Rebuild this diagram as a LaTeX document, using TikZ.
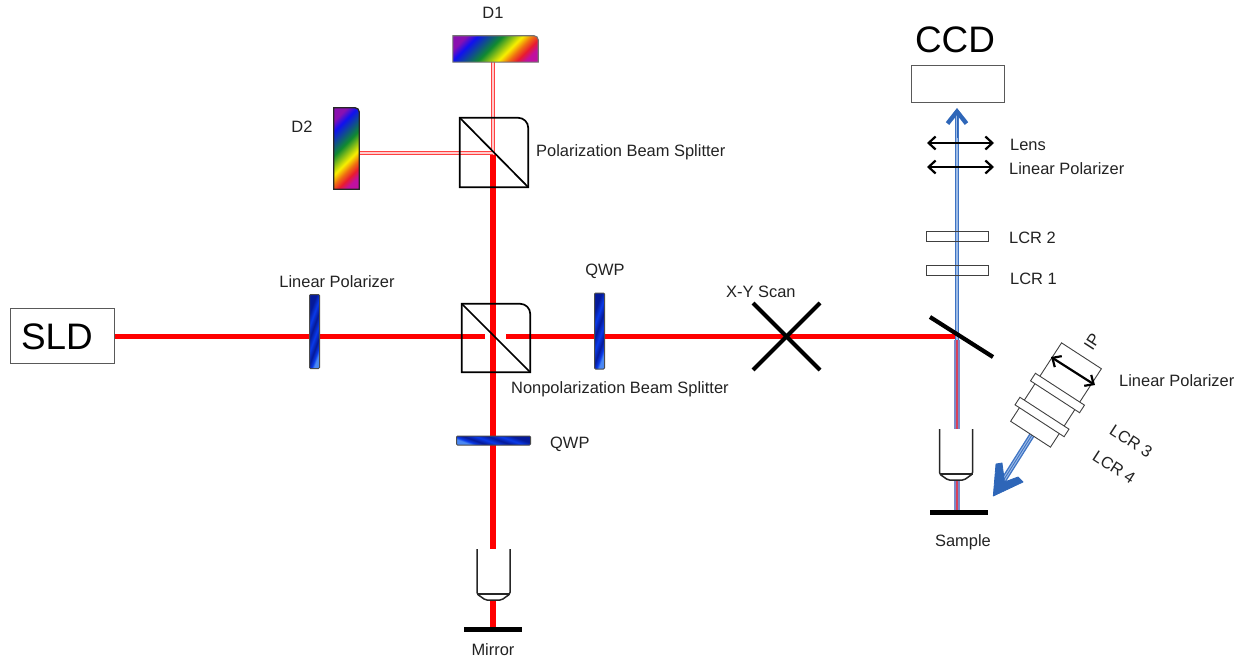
\documentclass[tikz,border=0pt]{standalone}
\usepackage{fontspec}
\setmainfont{Liberation Sans}
\usetikzlibrary{arrows.meta,calc}
\definecolor{txt}{HTML}{222222}
\definecolor{rbp}{HTML}{8A10B0}
\definecolor{rbb}{HTML}{1010F0}
\definecolor{rbg}{HTML}{108A30}
\definecolor{rby}{HTML}{F8F000}
\definecolor{rbo}{HTML}{F07010}
\definecolor{rbr}{HTML}{E81A30}
\definecolor{rbm}{HTML}{C010A0}
\definecolor{nav}{HTML}{051A9A}
\definecolor{blu}{HTML}{0A3AE8}
\definecolor{lbl}{HTML}{4A88F4}
\definecolor{bbeam}{HTML}{3F74C4}
\definecolor{bcore}{HTML}{9DBBE6}
\definecolor{bhead}{HTML}{2E66B8}
\definecolor{beamred}{HTML}{FF0000}
\definecolor{mixout}{HTML}{7A8AC8}
\definecolor{mixin}{HTML}{D8405A}
\pgfdeclarehorizontalshading{rainbow}{100bp}{color(0bp)=(rbp);color(31bp)=(rbp);color(36bp)=(rbb);color(47.5bp)=(rbg);color(56.5bp)=(rby);color(61bp)=(rbo);color(65bp)=(rbr);color(69bp)=(rbm);color(100bp)=(rbm)}
\pgfdeclarehorizontalshading{bandsA}{100bp}{color(0bp)=(nav);color(30bp)=(nav);color(38bp)=(blu);color(46bp)=(nav);color(54bp)=(blu);color(62bp)=(nav);color(68bp)=(blu);color(72bp)=(lbl);color(100bp)=(lbl)}
\tikzset{
  lab/.style={font=\fontsize{16.5}{19}\selectfont,text=txt,inner sep=0pt},
  bigtxt/.style={font=\fontsize{37}{40}\selectfont,text=black,inner sep=0pt},
  plate/.style={draw=black!70,line width=1bp,rounded corners=1bp,shading=bandsA,inner sep=0pt},
  rainbowfill/.style={inner sep=0pt,outer sep=0pt,scale=#1,rotate=-45,transform shape},
  beam/.style={draw=beamred,line width=5.2bp},
  thinbeam/.style={draw=red!75,line width=1bp,double=red!20,double distance=1.2bp},
  bluebeam/.style={draw=bbeam,line width=1.4bp,double=bcore,double distance=1.8bp},
  greybox/.style={draw=black!65,line width=1bp,fill=white,inner sep=0pt},
  thinbox/.style={draw=black!75,line width=.9bp,fill=white,inner sep=0pt},
  cubeshape/.style={draw=black,line width=1.7bp,line join=miter},
  bar/.style={draw=black,line width=4.2bp},
  twohead/.style={draw=black,line width=2.2bp,{Straight Barb[length=7bp,width=13bp,line width=2.2bp]}-{Straight Barb[length=7bp,width=13bp,line width=2.2bp]}},
  objective/.pic={
    \draw[draw=black!85,line width=1.5bp,fill=white,line join=round]
      (-16.5,0) -- (-16.5,42) [rounded corners=1.5bp] -- (-16.5,45) -- (-8,51) -- (8,51) -- (16.5,45) [sharp corners] -- (16.5,42) -- (16.5,0);
    \draw[draw=black!85,line width=1.1bp] (-16.5,45) -- (16.5,45);
  }
}
\begin{document}
\begin{tikzpicture}[x=1bp,y=-1bp]
\useasboundingbox (0,0) rectangle (1253,659);
% anchors
\node[inner sep=0pt,minimum width=68bp,minimum height=69bp] (pbs) at (494,152.5) {};
\node[inner sep=0pt,minimum width=68bp,minimum height=68bp] (npbs) at (496,338) {};
\coordinate (vtop) at (493,155);
\coordinate (pbsc) at (493,153);
\coordinate (gapL) at (485,336.5);
\coordinate (gapR) at (506,336.5);
\coordinate (mirrorbeam) at (493,627);
\coordinate (smir) at (957,336.5);
\coordinate (sbeam) at (957,511);
\coordinate (blueS) at (957,340);
\coordinate (blueT) at (957,112);
\coordinate (blueTip) at (957,108);
% boxes with beams starting from them
\node[greybox,minimum width=103bp,minimum height=55bp] (sld) at (62.5,335.5) {};
\node[bigtxt] (sldt) at (57,336.5) {SLD};
\node[inner sep=0pt,minimum width=85bp,minimum height=26bp] (d1) at (495.5,49) {};
\node[inner sep=0pt,minimum width=25bp,minimum height=81bp] (d2) at (346.5,148.5) {};
\draw[thinbeam] (vtop) -- (d1.south -| vtop);
\draw[thinbeam] (pbsc) -- (d2.east |- pbsc);
\draw[beam] (vtop) -- (mirrorbeam);
\draw[beam] (sld.east |- gapL) -- (gapL);
\draw[beam] (gapR) -- (smir);
% detectors
\begin{scope}
  \clip (d1.south west) -- (d1.north west) [rounded corners=4bp] -- (d1.north east) [sharp corners] -- (d1.south east) -- cycle;
  \node[rainbowfill=1.57] (d1fill) at (d1.center) {\pgfuseshading{rainbow}};
\end{scope}
\draw[draw=black!55,line width=1.1bp] (d1.south west) -- (d1.north west) [rounded corners=4bp] -- (d1.north east) [sharp corners] -- (d1.south east) -- cycle;
\begin{scope}
  \clip (d2.south west) -- (d2.north west) [rounded corners=4bp] -- (d2.north east) [sharp corners] -- (d2.south east) -- cycle;
  \node[rainbowfill=1.5] (d2fill) at (d2.center) {\pgfuseshading{rainbow}};
\end{scope}
\draw[draw=black!85,line width=1.3bp] (d2.south west) -- (d2.north west) [rounded corners=4bp] -- (d2.north east) [sharp corners] -- (d2.south east) -- cycle;
% cubes
\draw[cubeshape] (pbs.south west) -- (pbs.north west) [rounded corners=10bp] -- (pbs.north east) [sharp corners] -- (pbs.south east) -- cycle;
\draw[cubeshape] (pbs.north west) -- (pbs.south east);
\draw[cubeshape] (npbs.south west) -- (npbs.north west) [rounded corners=10bp] -- (npbs.north east) [sharp corners] -- (npbs.south east) -- cycle;
\draw[cubeshape] (npbs.north west) -- (npbs.south east);
% plates
\node[plate,shading angle=-20,minimum width=10bp,minimum height=74bp] (lp1) at (314.5,331.5) {};
\node[plate,shading angle=-20,minimum width=10bp,minimum height=76bp] (qwp1) at (599.5,331) {};
\node[plate,shading angle=-110,minimum width=74bp,minimum height=9bp] (qwp2) at (493.5,440.5) {};
% objective and mirror
\pic (objM) at (493.5,549) {objective};
\node[fill=black,inner sep=0pt,minimum width=58bp,minimum height=5bp] (mirror) at (493,629) {};
% scanner
\coordinate (sa) at (753,303); \coordinate (sb) at (820,370);
\coordinate (sc) at (820,303); \coordinate (sd) at (753,370);
\draw[bar] (sa) -- (sb);
\draw[bar] (sc) -- (sd);
% sample arm beam
\draw[draw=mixout,line width=5.6bp] (blueS) -- (sbeam);
\draw[draw=mixin,line width=2.4bp] (blueS) -- (sbeam);
\draw[bluebeam] (blueS) -- (blueT);
\coordinate (mA) at (930,317); \coordinate (mB) at (993,357);
\draw[bar] (mA) -- (mB);
\pic (objS) at (956,429) {objective};
\node[fill=black,inner sep=0pt,minimum width=58bp,minimum height=5bp] (sample) at (959,512) {};
% CCD arm
\node[greybox,minimum width=93bp,minimum height=37bp] (ccd) at (957.5,84.5) {};
\node[bigtxt] (ccdt) at (955,40) {CCD};
\draw[draw=bhead,line width=1pt,-{Straight Barb[length=12bp,width=19bp,line width=4.4bp]}] ($(blueTip)+(0,30)$) -- (blueTip);
\coordinate (lensL) at (927,143); \coordinate (lensR) at (994,143);
\coordinate (lpL) at (927,167); \coordinate (lpR) at (994,167);
\draw[twohead] (lensL) -- (lensR);
\draw[twohead] (lpL) -- (lpR);
\node[thinbox,fill opacity=0,minimum width=62bp,minimum height=10bp] (lcr2) at (957,236.5) {};
\node[thinbox,fill opacity=0,minimum width=62bp,minimum height=10bp] (lcr1) at (957,270) {};
% illumination arm
\coordinate (illTip) at (993.3,496);
\draw[draw=bbeam,line width=1.4bp,double=bcore,double distance=3bp] (1032,435) -- (1003,481);
\draw[draw=bbeam,line width=.9bp] (1032,435) -- (1003,481);
\path[fill=bhead,draw=bhead,line width=.8bp,line join=round] (illTip) -- (996,464) -- (1002,463) -- (1004.5,482) -- (1018,477) -- (1023,482) -- cycle;
\node[thinbox,rotate=-33,minimum width=47.5bp,minimum height=93.5bp] (ip) at (1056,395) {};
\node[thinbox,rotate=-33,minimum width=58.5bp,minimum height=9bp] (lcr3) at (1057.5,393) {};
\node[thinbox,rotate=-33,minimum width=58.5bp,minimum height=9bp] (lcr4) at (1042,417) {};
\coordinate (ipL) at (1051,357); \coordinate (ipR) at (1095,385);
\draw[twohead] (ipL) -- (ipR);
% labels
\node[lab] (t1) at (493,13) {D1};
\node[lab] (t2) at (302,127) {D2};
\node[lab,anchor=west] (t3) at (536,152) {Polarization Beam Splitter};
\node[lab] (t4) at (337,282) {Linear Polarizer};
\node[lab] (t5) at (605,271) {QWP};
\node[lab,anchor=west] (t6) at (726,292) {X-Y Scan};
\node[lab,anchor=west] (t7) at (511,389) {Nonpolarization Beam Splitter};
\node[lab,anchor=west] (t8) at (550,444) {QWP};
\node[lab] (t9) at (493,650) {Mirror};
\node[lab] (t10) at (963,542) {Sample};
\node[lab,anchor=west] (t11) at (1010,145) {Lens};
\node[lab,anchor=west] (t12) at (1009,169) {Linear Polarizer};
\node[lab,anchor=west] (t13) at (1009,238) {LCR 2};
\node[lab,anchor=west] (t14) at (1010,279) {LCR 1};
\node[lab,anchor=west] (t15) at (1119,381) {Linear Polarizer};
\node[lab,rotate=57] (t16) at (1092,342) {IP};
\node[lab,rotate=-33] (t17) at (1131,441) {LCR 3};
\node[lab,rotate=-33] (t18) at (1114,467) {LCR 4};
\end{tikzpicture}
\end{document}
